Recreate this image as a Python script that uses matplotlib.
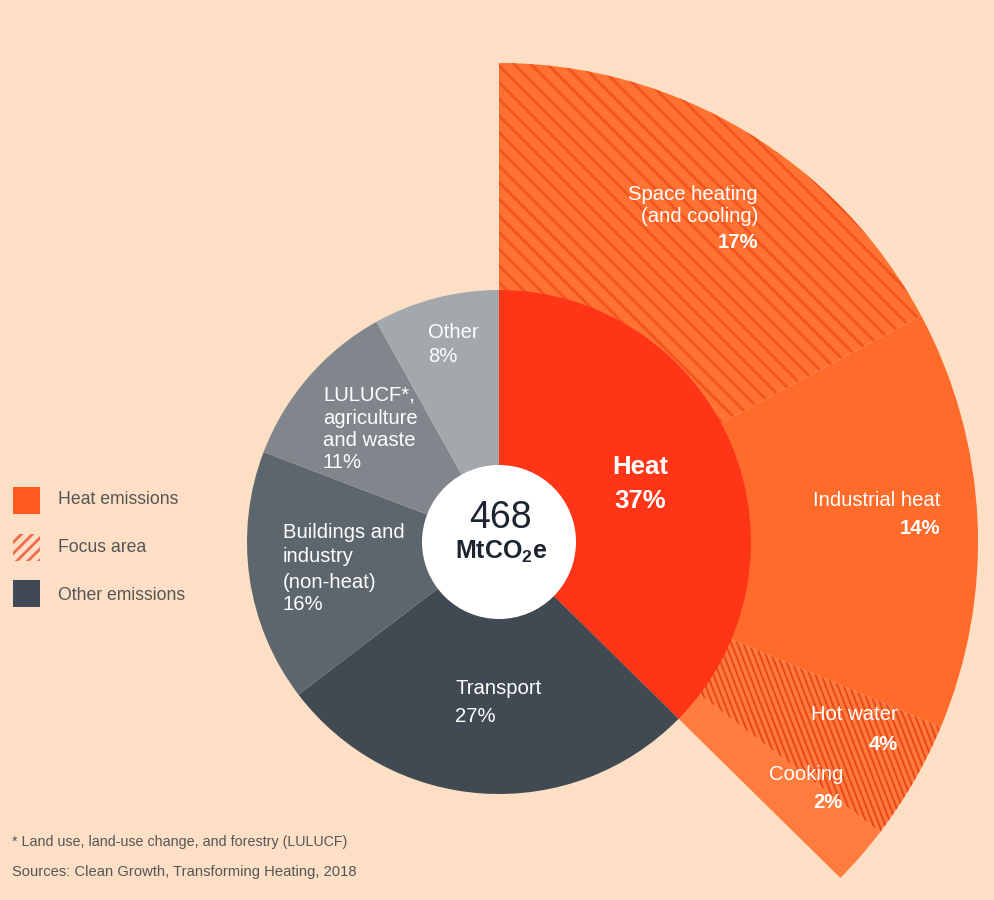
import matplotlib
matplotlib.use("Agg")
import numpy as np
import matplotlib.pyplot as plt
from matplotlib.patches import Circle, Rectangle

# ---- data -------------------------------------------------------------
sector_names = ["Heat", "Transport", "Buildings and\nindustry\n(non-heat)",
                "LULUCF*,\nagriculture\nand waste", "Other"]
sector_shares = [37, 27, 16, 11, 8]
heat_names = ["Space heating\n(and cooling)", "Industrial heat", "Hot water", "Cooking"]
heat_shares = [17, 14, 4, 2]
total_emissions = 468
legend_names = ["Heat emissions", "Focus area", "Other emissions"]
footnote = "* Land use, land-use change, and forestry (LULUCF)"
source = "Sources: Clean Growth, Transforming Heating, 2018"

# ---- style ------------------------------------------------------------
BG = "#FDDFC5"
plt.rcParams["font.family"] = ["Liberation Sans", "DejaVu Sans"]
plt.rcParams["hatch.linewidth"] = 2.0

W, H = 994, 900
fig = plt.figure(figsize=(W / 100, H / 100), dpi=100, facecolor=BG)
ax = fig.add_axes([0, 0, 1, 1])
ax.set_facecolor(BG)


def Y(py):
    return H - py


cx, cy = 499, Y(542)
R_OUT, R_IN, R_HOLE = 479, 252, 77
full = sum(sector_shares)

# outer ring: heat breakdown, remainder of the circle left empty
outer_vals = heat_shares + [full - sum(heat_shares)]
outer_cols = ["#FF7232", "#FF6B2A", "#FF7B3C", "#FF7C3E", "none"]
outer_hatch = ["\\\\", None, None, None, None]
outer_edge = ["#F4541F", "none", "none", "none", "none"]
wedges, _ = ax.pie(outer_vals, radius=R_OUT, center=(cx, cy), startangle=90,
                   counterclock=False, colors=outer_cols, hatch=outer_hatch,
                   wedgeprops=dict(linewidth=0), normalize=True)
for w, ec in zip(wedges, outer_edge):
    w.set_edgecolor(ec)
    w.set_linewidth(0)

# steep stripes across the hot-water segment
hot = wedges[2]
slope = 2.6
y_ref = cy - 220
t = np.array([-200.0, 200.0])
for x0 in np.arange(cx - 100, cx + R_OUT + 150, 6.0):
    xs = x0 + t / slope
    ys = y_ref - t
    ln, = ax.plot(xs, ys, color="#E8461C", lw=1.4, solid_capstyle="butt", zorder=2)
    ln.set_clip_path(hot)

# inner pie: all emissions
inner_cols = ["#FF3518", "#414A53", "#5E666D", "#80868C", "#A3A8AC"]
inner, _ = ax.pie(sector_shares, radius=R_IN, center=(cx, cy), startangle=90,
                  counterclock=False, colors=inner_cols, wedgeprops=dict(linewidth=0))
for w in inner:
    w.set_zorder(3)

ax.add_patch(Circle((cx, cy), R_HOLE, facecolor="white", edgecolor="none", zorder=5))

ax.set_xlim(0, W)
ax.set_ylim(0, H)
ax.set_aspect("equal")
ax.axis("off")

# ---- labels -----------------------------------------------------------
fs = 14.6


def block(x, ys, lines, ha, bold, size=fs, color="white"):
    for py, txt, b in zip(ys, lines, bold):
        ax.text(x, Y(py), txt, ha=ha, va="center", color=color, fontsize=size,
                fontweight="bold" if b else "normal", zorder=6)


def seg(x, ys, name, pct, ha, pct_bold=True, name_bold=False, size=fs):
    lines = name.split("\n") + [f"{pct}%"]
    bold = [name_bold] * (len(lines) - 1) + [pct_bold]
    block(x, ys, lines, ha, bold, size=size)


# heat breakdown
seg(758, [194, 217, 243], heat_names[0], heat_shares[0], "right")
seg(940, [500, 528], heat_names[1], heat_shares[1], "right")
seg(898, [715, 744], heat_names[2], heat_shares[2], "right")
seg(843, [775, 803], heat_names[3], heat_shares[3], "right")

# sectors
seg(640, [467, 501], sector_names[0], sector_shares[0], "center",
    name_bold=True, size=18.5)
seg(455, [689, 716], sector_names[1], sector_shares[1], "left", pct_bold=False)
seg(283, [533, 557, 582, 605], sector_names[2], sector_shares[2], "left", pct_bold=False)
seg(323, [395, 418, 441, 463], sector_names[3], sector_shares[3], "left", pct_bold=False)
seg(428, [333, 356], sector_names[4], sector_shares[4], "left", pct_bold=False)

# centre total
ax.text(cx + 1, Y(518), f"{total_emissions}", ha="center", va="center",
        color="#1C2530", fontsize=27, zorder=6)
ax.text(cx + 2, Y(552), r"MtCO$_\mathregular{2}$e", ha="center", va="center",
        color="#1C2530", fontsize=18, fontweight="bold", zorder=6)

# ---- legend -----------------------------------------------------------
sw = 27
ax.add_patch(Rectangle((13, Y(514)), sw, sw, facecolor="#FF5A20", edgecolor="none"))
ax.add_patch(Rectangle((13, Y(561)), sw, sw, facecolor="none", edgecolor="#F2694E",
                       hatch="///", linewidth=0))
ax.add_patch(Rectangle((13, Y(607)), sw, sw, facecolor="#3F4A55", edgecolor="none"))
for name, py in zip(legend_names, [500, 548, 595]):
    ax.text(58, Y(py), name, ha="left", va="center", color="#555555", fontsize=12.7)

# ---- notes ------------------------------------------------------------
ax.text(12, Y(842), footnote, ha="left", va="center", color="#555555", fontsize=10.3)
ax.text(12, Y(872), source, ha="left", va="center", color="#555555", fontsize=10.6)

fig.savefig("out.png", dpi=100, facecolor=BG)
